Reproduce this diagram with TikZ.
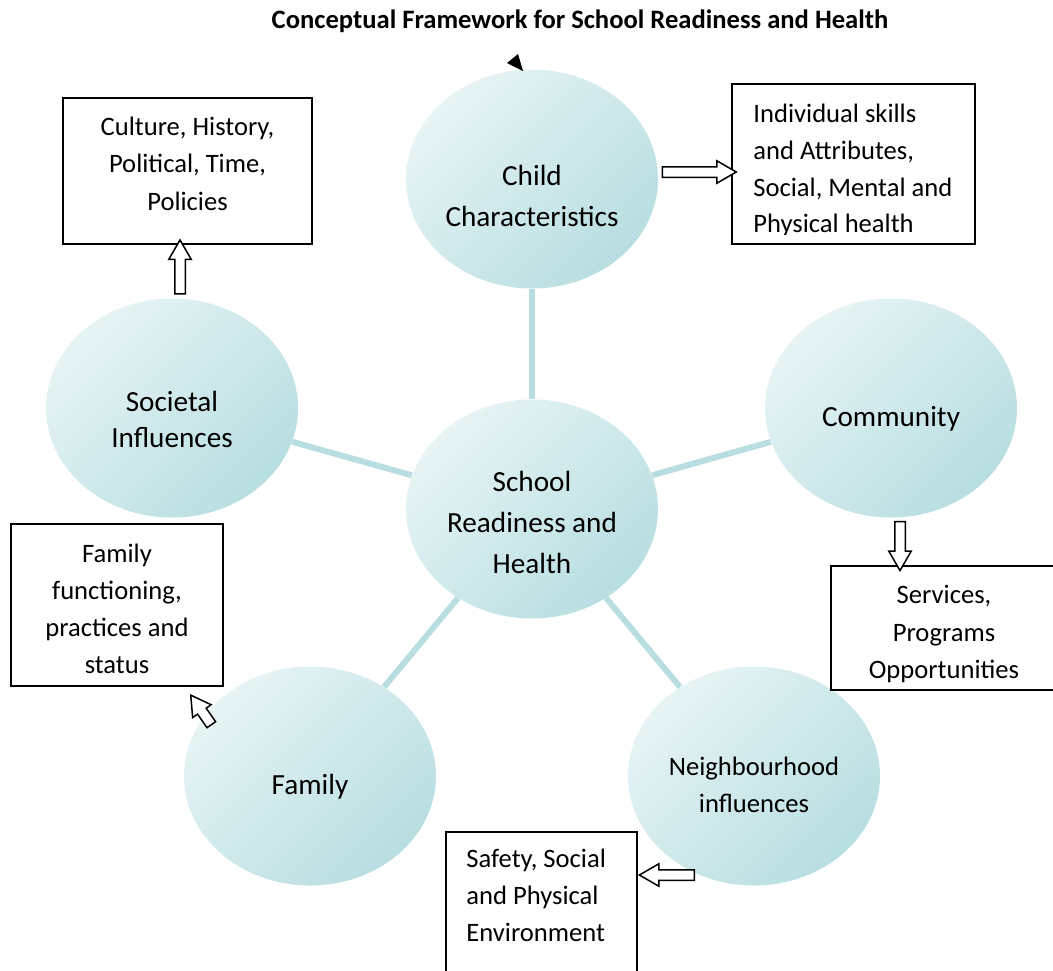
\documentclass[tikz,border=0pt]{standalone}
\usepackage{fontspec}
\setmainfont{Carlito}
\usetikzlibrary{shapes.geometric,shapes.arrows}

\definecolor{bubblelight}{RGB}{231,244,245}
\definecolor{bubbledark}{RGB}{184,222,225}
\definecolor{spokeblue}{RGB}{184,222,225}

% strut that sets the height of a first line
\newcommand{\topline}[1]{\rule{0pt}{#1}}

\begin{document}
\begin{tikzpicture}
	[x=0.5pt, y=0.5pt,
		bubble/.style	={ellipse, inner sep=0pt, minimum width=126pt, minimum height=109.5pt,
									top color=bubblelight, bottom color=bubbledark, shading angle=45,
									align=center, font=\fontsize{14.6}{20.5}\selectfont,
									execute at end node={\rule[-2pt]{0pt}{2pt}}},
		box/.style		={rectangle, draw, line width=0.9pt, fill=white, inner sep=0pt,
									align=center, font=\fontsize{13.3}{18.6}\selectfont,
									execute at end node={\rule[-#1]{0pt}{#1}}},
		box/.default		=4pt,
		boxtext/.style	={inner sep=0pt, align=left, font=\fontsize{13.3}{18.4}\selectfont},
		spoke/.style		={draw=spokeblue, line width=3pt},
		blockarrow/.style	={single arrow, draw, line width=0.75pt, fill=white,
									inner xsep=0pt, inner ysep=2.25pt,
									minimum width=10.5pt, single arrow head extend=3pt,
									single arrow tip angle=60, sloped, allow upside down}
	]
\useasboundingbox (0,0) rectangle (1053,-970);

\node [font=\bfseries\fontsize{13.3}{16}\selectfont] (title) at (580,-21)
	{Conceptual Framework for School Readiness and Health};

% bubbles
\node [bubble] (child)		at (532,-179)	{\topline{28.8pt}Child\\Characteristics};
\node [bubble, font=\fontsize{14.6}{18}\selectfont] (societal) at (172,-408)
	{\topline{23.5pt}Societal\\Influences};
\node [bubble] (community)	at (891,-408)	{\topline{21pt}Community};
\node [bubble] (school)		at (532,-509)	{\topline{25.4pt}School\\Readiness and\\Health};
\node [bubble] (family)		at (310,-776)	{\topline{21pt}Family};
\node [bubble, font=\fontsize{13.3}{18.8}\selectfont] (neighbour) at (754,-776)
	{\topline{19.9pt}Neighbourhood\\influences};

% boxes
\node [box=7.3pt, minimum width=124.5pt, minimum height=73pt] (culture) at (187.5,-171)
	{Culture, History,\\Political, Time,\\Policies};
\node [box, minimum width=121.5pt, minimum height=80pt] (skills) at (853.5,-164) {};
\node [box, minimum width=106pt, minimum height=81pt] (familybox) at (117,-605)
	{\topline{17pt}Family\\functioning,\\practices and\\status};
\node [box, minimum width=113pt, minimum height=62pt] (services) at (944,-628)
	{\topline{17pt}Services,\\Programs\\Opportunities};
\node [box, minimum width=95.5pt, minimum height=85pt] (safety) at (541.5,-917) {};

\begin{scope}
	\clip (skills.north west) rectangle ([yshift=5pt]skills.south east);
	\node [boxtext, anchor=north west] (skillstext) at (753,-94)
		{\topline{14pt}Individual skills\\and Attributes,\\Social, Mental and\\Physical health};
\end{scope}
\node [boxtext, anchor=north west] (safetytext) at (466,-839)
	{\topline{14pt}Safety, Social\\and Physical\\Environment};

% spokes
\begin{scope}[every path/.style=spoke]
	\path	(school)	-- (child);
	\path	(school)	-- (societal);
	\path	(school)	-- (community);
	\path	(school)	-- (family);
	\path	(school)	-- (neighbour);
\end{scope}

% block arrows
\path ([yshift=3.5pt]child.east) -- ([yshift=3.5pt]child.east -| skills.west)
	node [blockarrow, midway, minimum height=37pt] {};
\path ([xshift=4pt]societal.north) -- ([xshift=4pt]societal.north |- culture.south)
	node [blockarrow, midway, minimum height=27pt] {};
\path ([xshift=4.5pt]community.south) -- ([xshift=4.5pt]community.south |- services.north)
	node [blockarrow, midway, minimum height=24.5pt] {};
\path (family.150) -- ([xshift=-17pt,yshift=-3.5pt]familybox.south east)
	node [blockarrow, pos=1, anchor=tip, minimum height=18pt] {};
\path (neighbour.241) -- (neighbour.241 -| safety.east)
	node [blockarrow, pos=1, anchor=tip, minimum height=27.5pt] {};

\fill (507,-63) -- (518,-54) -- (523,-71) -- cycle;
\end{tikzpicture}
\end{document}
